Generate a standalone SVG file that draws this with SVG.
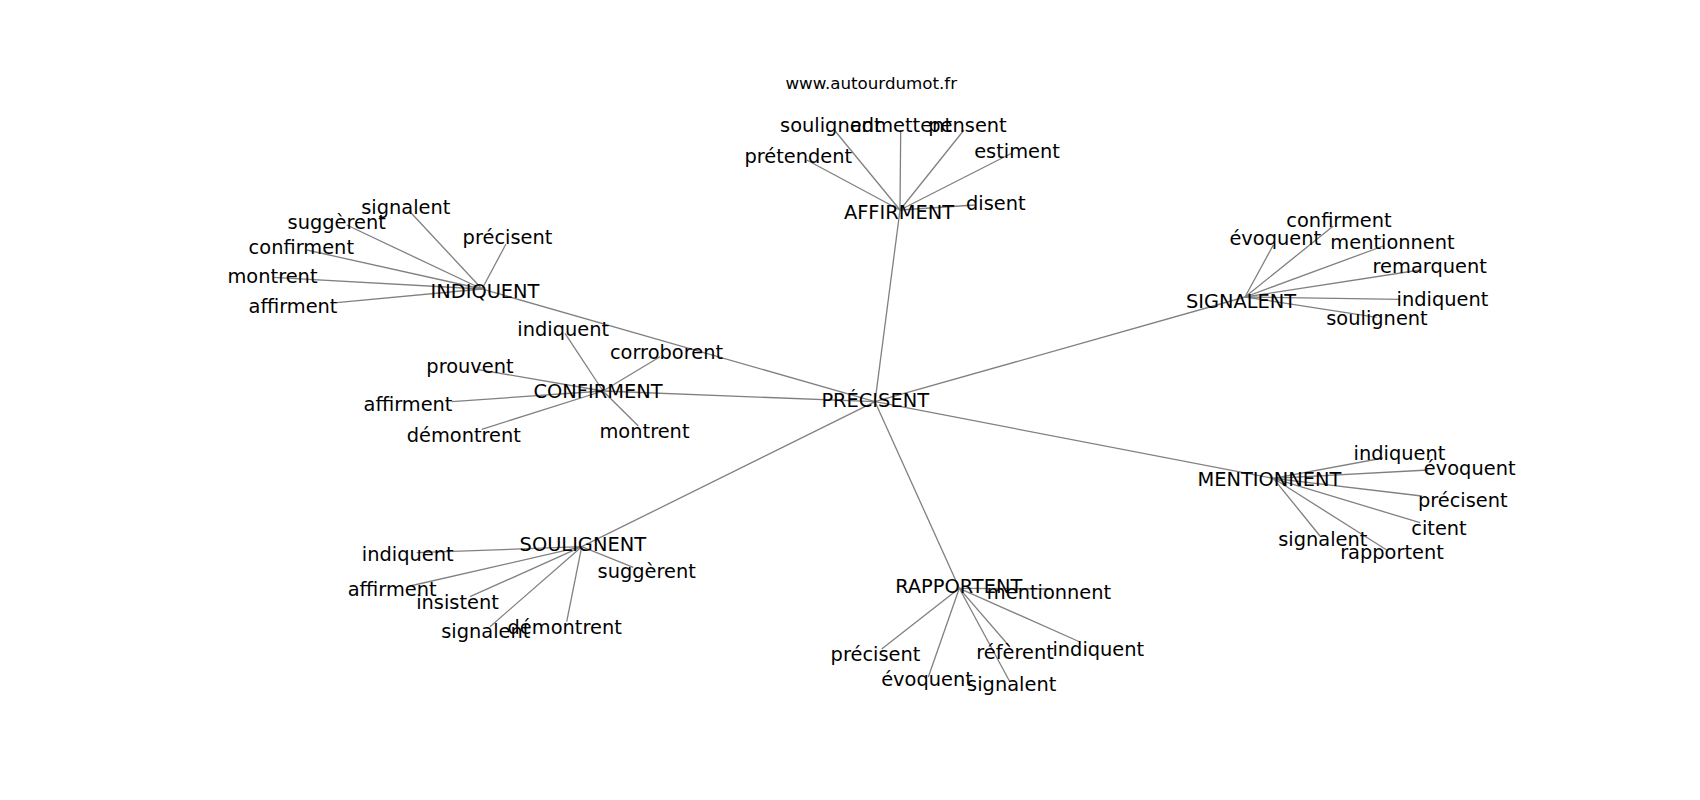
<svg xmlns="http://www.w3.org/2000/svg" width="1700" height="800" viewBox="0 0 1700 800">
<style>
text{font-family:"DejaVu Sans","Liberation Sans",sans-serif;font-size:19.4px;fill:#000;text-anchor:middle}
.title{font-size:16.7px}
#edges line{stroke:#808080;stroke-width:1.3}
</style>
<rect width="1700" height="800" fill="#fff"/>
<g id="edges">
<line x1="875" y1="401.7" x2="900" y2="210"/>
<line x1="875" y1="401.7" x2="482" y2="289"/>
<line x1="875" y1="401.7" x2="603" y2="391"/>
<line x1="875" y1="401.7" x2="581.7" y2="546.7"/>
<line x1="875" y1="401.7" x2="959.3" y2="588.3"/>
<line x1="875" y1="401.7" x2="1245" y2="297"/>
<line x1="875" y1="401.7" x2="1273.3" y2="478.3"/>
<line x1="900" y1="210" x2="834.3" y2="130"/>
<line x1="900" y1="210" x2="900.7" y2="130"/>
<line x1="900" y1="210" x2="964" y2="130"/>
<line x1="900" y1="210" x2="806.7" y2="160"/>
<line x1="900" y1="210" x2="1012" y2="153"/>
<line x1="900" y1="210" x2="975" y2="205"/>
<line x1="482" y1="289" x2="410" y2="211.7"/>
<line x1="482" y1="289" x2="346.7" y2="225"/>
<line x1="482" y1="289" x2="506" y2="244"/>
<line x1="482" y1="289" x2="306.7" y2="250"/>
<line x1="482" y1="289" x2="273.3" y2="277.3"/>
<line x1="482" y1="289" x2="336.7" y2="302.7"/>
<line x1="603" y1="391" x2="565" y2="333.3"/>
<line x1="603" y1="391" x2="660" y2="356.7"/>
<line x1="603" y1="391" x2="476.7" y2="369.3"/>
<line x1="603" y1="391" x2="451.7" y2="401.7"/>
<line x1="603" y1="391" x2="481.7" y2="429.3"/>
<line x1="603" y1="391" x2="638.3" y2="426"/>
<line x1="1245" y1="297" x2="1333.3" y2="226"/>
<line x1="1245" y1="297" x2="1273.3" y2="245"/>
<line x1="1245" y1="297" x2="1383.3" y2="246"/>
<line x1="1245" y1="297" x2="1420" y2="270"/>
<line x1="1245" y1="297" x2="1400" y2="299.3"/>
<line x1="1245" y1="297" x2="1376.7" y2="317.3"/>
<line x1="1273.3" y1="478.3" x2="1383" y2="458"/>
<line x1="1273.3" y1="478.3" x2="1428.3" y2="470"/>
<line x1="1273.3" y1="478.3" x2="1421.7" y2="496"/>
<line x1="1273.3" y1="478.3" x2="1420" y2="522.7"/>
<line x1="1273.3" y1="478.3" x2="1320" y2="536"/>
<line x1="1273.3" y1="478.3" x2="1386.7" y2="550"/>
<line x1="581.7" y1="546.7" x2="416.7" y2="552.7"/>
<line x1="581.7" y1="546.7" x2="410" y2="586"/>
<line x1="581.7" y1="546.7" x2="470" y2="596.7"/>
<line x1="581.7" y1="546.7" x2="490" y2="626.7"/>
<line x1="581.7" y1="546.7" x2="566.7" y2="621.7"/>
<line x1="581.7" y1="546.7" x2="633.3" y2="567.3"/>
<line x1="959.3" y1="588.3" x2="1050" y2="589"/>
<line x1="959.3" y1="588.3" x2="881.7" y2="649"/>
<line x1="959.3" y1="588.3" x2="928.3" y2="677"/>
<line x1="959.3" y1="588.3" x2="1010" y2="647"/>
<line x1="959.3" y1="588.3" x2="1010" y2="682"/>
<line x1="959.3" y1="588.3" x2="1080" y2="642"/>
</g>
<g id="title"><text class="title" x="871.3" y="89">www.autourdumot.fr</text></g>
<g id="n-precisent"><text x="875.2" y="406.5">PRÉCISENT</text></g>
<g id="n-affirment"><text x="899" y="219.3">AFFIRMENT</text></g>
<g id="n-affirment-soulignent"><text x="830.8" y="131.5">soulignent</text></g>
<g id="n-affirment-admettent"><text x="901" y="131.5">admettent</text></g>
<g id="n-affirment-pensent"><text x="967.5" y="131.5">pensent</text></g>
<g id="n-affirment-pretendent"><text x="798.3" y="162.5">prétendent</text></g>
<g id="n-affirment-estiment"><text x="1017" y="157.5">estiment</text></g>
<g id="n-affirment-disent"><text x="995.8" y="209.5">disent</text></g>
<g id="n-indiquent"><text x="485" y="297.5">INDIQUENT</text></g>
<g id="n-indiquent-signalent"><text x="405.8" y="214.3">signalent</text></g>
<g id="n-indiquent-suggerent"><text x="336.7" y="229.3">suggèrent</text></g>
<g id="n-indiquent-precisent"><text x="507.5" y="244.3">précisent</text></g>
<g id="n-indiquent-confirment"><text x="301.3" y="254.3">confirment</text></g>
<g id="n-indiquent-montrent"><text x="272.5" y="282.5">montrent</text></g>
<g id="n-indiquent-affirment"><text x="293" y="312.5">affirment</text></g>
<g id="n-confirment"><text x="598" y="398.3">CONFIRMENT</text></g>
<g id="n-confirment-indiquent"><text x="563.2" y="336">indiquent</text></g>
<g id="n-confirment-corroborent"><text x="666.5" y="358.5">corroborent</text></g>
<g id="n-confirment-prouvent"><text x="470" y="372.7">prouvent</text></g>
<g id="n-confirment-affirment"><text x="408" y="411">affirment</text></g>
<g id="n-confirment-demontrent"><text x="463.8" y="441.7">démontrent</text></g>
<g id="n-confirment-montrent"><text x="644.5" y="438.3">montrent</text></g>
<g id="n-signalent"><text x="1241" y="307.5">SIGNALENT</text></g>
<g id="n-signalent-confirment"><text x="1339" y="226.5">confirment</text></g>
<g id="n-signalent-evoquent"><text x="1275.3" y="245">évoquent</text></g>
<g id="n-signalent-mentionnent"><text x="1392.5" y="249.3">mentionnent</text></g>
<g id="n-signalent-remarquent"><text x="1429.7" y="272.7">remarquent</text></g>
<g id="n-signalent-indiquent"><text x="1442.5" y="306">indiquent</text></g>
<g id="n-signalent-soulignent"><text x="1377" y="325">soulignent</text></g>
<g id="n-mentionnent"><text x="1269.5" y="486">MENTIONNENT</text></g>
<g id="n-mentionnent-indiquent"><text x="1399.5" y="460.3">indiquent</text></g>
<g id="n-mentionnent-evoquent"><text x="1469.7" y="475">évoquent</text></g>
<g id="n-mentionnent-precisent"><text x="1462.8" y="507">précisent</text></g>
<g id="n-mentionnent-citent"><text x="1439" y="535">citent</text></g>
<g id="n-mentionnent-signalent"><text x="1322.8" y="545.5">signalent</text></g>
<g id="n-mentionnent-rapportent"><text x="1392" y="558.5">rapportent</text></g>
<g id="n-soulignent"><text x="582.8" y="550.5">SOULIGNENT</text></g>
<g id="n-soulignent-indiquent"><text x="407.7" y="561">indiquent</text></g>
<g id="n-soulignent-affirment"><text x="392.2" y="596">affirment</text></g>
<g id="n-soulignent-insistent"><text x="457.5" y="609.3">insistent</text></g>
<g id="n-soulignent-signalent"><text x="485.8" y="637.7">signalent</text></g>
<g id="n-soulignent-demontrent"><text x="564.7" y="633.7">démontrent</text></g>
<g id="n-soulignent-suggerent"><text x="646.7" y="577.7">suggèrent</text></g>
<g id="n-rapportent"><text x="958.7" y="592.5">RAPPORTENT</text></g>
<g id="n-rapportent-mentionnent"><text x="1049" y="598.5">mentionnent</text></g>
<g id="n-rapportent-precisent"><text x="875.5" y="660.5">précisent</text></g>
<g id="n-rapportent-evoquent"><text x="927" y="686">évoquent</text></g>
<g id="n-rapportent-referent"><text x="1015" y="659">réfèrent</text></g>
<g id="n-rapportent-signalent"><text x="1011.7" y="690.8">signalent</text></g>
<g id="n-rapportent-indiquent"><text x="1098.3" y="655.5">indiquent</text></g>
</svg>
